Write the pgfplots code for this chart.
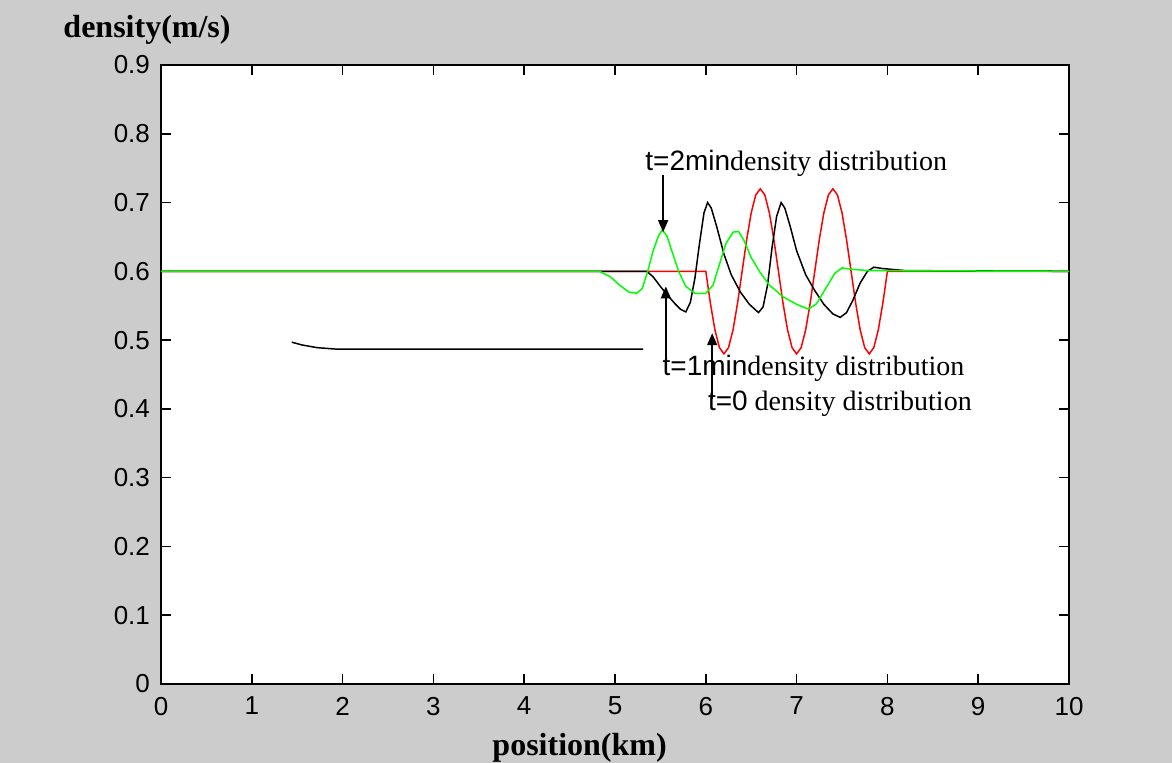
\documentclass[border=0pt]{standalone}
\usepackage{pgfplots}
\pgfplotsset{compat=1.18}
\usepackage{fontspec}
\setmainfont{Liberation Serif}
\setsansfont{Liberation Sans}
\usetikzlibrary{arrows.meta}
\definecolor{bg}{HTML}{CCCCCC}
\tikzset{
  curve/.style = {line width=0.75pt},
  ann/.style   = {-{Triangle[length=6pt,width=5pt]}, line width=0.8pt},
  lbl/.style   = {anchor=west, inner sep=0pt, font=\fontsize{14}{14}\selectfont}
}

\begin{document}
\begin{tikzpicture}[x=1pt,y=1pt]
\path[use as bounding box, fill=bg] (-80.5,-39.5) rectangle (505.5,342);
\begin{axis}[
  at={(0,0)}, anchor=south west,
  scale only axis, width=454pt, height=309.5pt,
  xmin=0, xmax=10, ymin=0, ymax=0.9,
  xtick={0,1,2,3,4,5,6,7,8,9,10},
  xticklabels={0,1,2,3,4,5,6,7,8,9,10},
  ytick={0,0.1,0.2,0.3,0.4,0.5,0.6,0.7,0.8,0.9},
  yticklabels={0,0.1,0.2,0.3,0.4,0.5,0.6,0.7,0.8,0.9},
  tick pos=both, tick align=inside, major tick length=5pt,
  tick style={line width=0.8pt, black},
  axis line style={line width=0.9pt},
  axis background/.style={fill=white},
  tick label style={font=\sffamily\fontsize{13}{13}\selectfont},
  xticklabel style={yshift=-3pt},
  yticklabel style={xshift=-2pt},
  xlabel={position(km)}, ylabel={density(m/s)},
  every axis x label/.style={at={(rel axis cs:0.461,-0.103)}, anchor=center,
    font=\bfseries\fontsize{16}{16}\selectfont},
  every axis y label/.style={at={(rel axis cs:-0.0154,1.0565)}, anchor=center,
    font=\bfseries\fontsize{16}{16}\selectfont},
]
% t=0
\addplot[curve, red] coordinates {
(0,0.600)(5.98,0.600)(6.00,0.600)(6.05,0.554)(6.10,0.515)(6.15,0.489)(6.20,0.480)
(6.25,0.489)(6.30,0.515)(6.35,0.554)(6.40,0.600)(6.45,0.646)(6.50,0.685)(6.55,0.711)
(6.60,0.720)(6.65,0.711)(6.70,0.685)(6.75,0.646)(6.80,0.600)(6.85,0.554)(6.90,0.515)
(6.95,0.489)(7.00,0.480)(7.05,0.489)(7.10,0.515)(7.15,0.554)(7.20,0.600)(7.25,0.646)
(7.30,0.685)(7.35,0.711)(7.40,0.720)(7.45,0.711)(7.50,0.685)(7.55,0.646)(7.60,0.600)
(7.65,0.554)(7.70,0.515)(7.75,0.489)(7.80,0.480)(7.85,0.489)(7.90,0.515)(7.95,0.554)
(8.00,0.600)(10,0.600)};
% t=1min
\addplot[curve, black] coordinates {
(0,0.600)(5.35,0.600)(5.42,0.592)(5.50,0.578)(5.58,0.565)(5.66,0.553)(5.72,0.545)
(5.78,0.541)(5.83,0.555)(5.88,0.590)(5.93,0.640)(5.98,0.685)(6.02,0.700)(6.06,0.692)
(6.12,0.665)(6.20,0.625)(6.28,0.595)(6.38,0.570)(6.48,0.552)(6.58,0.540)(6.63,0.548)
(6.68,0.580)(6.73,0.635)(6.78,0.680)(6.83,0.700)(6.87,0.692)(6.93,0.665)(7.00,0.630)
(7.10,0.595)(7.20,0.572)(7.30,0.552)(7.40,0.538)(7.48,0.533)(7.55,0.540)(7.62,0.558)
(7.70,0.583)(7.78,0.600)(7.85,0.606)(7.95,0.604)(8.20,0.601)(10,0.600)};
\addplot[curve, black] coordinates {
(1.44,0.497)(1.55,0.493)(1.72,0.489)(1.92,0.487)(5.31,0.487)};
% t=2min
\addplot[curve, green] coordinates {
(0,0.600)(4.83,0.600)(4.95,0.592)(5.05,0.580)(5.15,0.570)(5.24,0.568)(5.30,0.575)
(5.36,0.600)(5.42,0.630)(5.48,0.652)(5.52,0.660)(5.57,0.652)(5.63,0.628)(5.70,0.600)
(5.78,0.578)(5.88,0.568)(6.00,0.568)(6.08,0.580)(6.15,0.610)(6.22,0.640)(6.30,0.657)
(6.36,0.658)(6.42,0.645)(6.50,0.620)(6.60,0.598)(6.70,0.580)(6.85,0.563)(7.00,0.552)
(7.13,0.545)(7.22,0.553)(7.32,0.575)(7.42,0.597)(7.50,0.605)(7.60,0.603)(7.80,0.601)
(10,0.600)};
% annotations
\node[lbl] at (axis cs:5.33,0.757) {\sffamily t=2min\rmfamily density distribution};
\node[lbl] at (axis cs:5.52,0.459) {\sffamily t=1min\rmfamily density distribution};
\node[lbl] at (axis cs:6.02,0.407) {\sffamily t=0\rmfamily\ density distribution};
\draw[ann] (axis cs:5.53,0.740) -- (axis cs:5.53,0.657);
\draw[ann] (axis cs:5.56,0.468) -- (axis cs:5.56,0.578);
\draw[ann] (axis cs:6.07,0.414) -- (axis cs:6.07,0.510);
\end{axis}
\end{tikzpicture}
\end{document}
